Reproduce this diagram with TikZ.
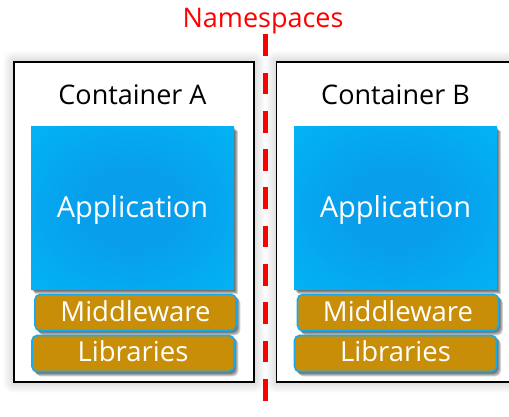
\documentclass[tikz,border=0pt]{standalone}
\usepackage{fontspec}
\setmainfont{Open Sans}
\usetikzlibrary{calc}

\definecolor{appin}{RGB}{8,158,236}
\definecolor{appout}{RGB}{0,186,246}
\definecolor{layergold}{RGB}{200,142,8}
\definecolor{layeredge}{RGB}{20,172,238}
\definecolor{nsred}{RGB}{255,0,0}

\pgfdeclarelayer{paper}
\pgfdeclarelayer{stackshade}
\pgfdeclarelayer{front}
\pgfsetlayers{paper,main,stackshade,front}

\pgfdeclareradialshading{appglow}{\pgfpoint{0bp}{0bp}}{%
  color(0bp)=(appin); color(12bp)=(appin); color(42bp)=(appout); color(100bp)=(appout)}

\tikzset{
  containerbox/.style={draw=black, line width=1.6pt, fill=white, minimum width=240pt,
    minimum height=320pt, inner sep=0pt},
  appbox/.style={shading=appglow, minimum width=203pt, minimum height=163pt, inner sep=0pt},
  layerbox/.style={fill=layergold, draw=layeredge, line width=1.6pt, rounded corners=5pt,
    minimum width=201pt, minimum height=36pt, inner sep=0pt},
  apptext/.style={text=white, font=\fontsize{29}{32}\selectfont, inner sep=0pt, anchor=base},
  layertext/.style={text=white, font=\fontsize{27.5}{30}\selectfont, inner sep=0pt, anchor=base},
  boxtitle/.style={text=black, font=\fontsize{27}{30}\selectfont, inner sep=0pt, anchor=base},
  nsline/.style={draw=nsred, line width=5.5pt, dash pattern=on 21.7pt off 16.6pt},
  glowlayer/.style={fill=black, opacity=0.013},
  dropshade/.style={fill=black, opacity=0.18},
}

% soft halo around a container node
\newcommand{\haloaround}[1]{%
  \foreach \r in {1,...,10}{
    \fill[glowlayer, rounded corners=\r pt]
      ($(#1.south west)+(-\r pt,-\r pt)$) rectangle ($(#1.north east)+(\r pt,\r pt)$);
  }}
% drop shadow to the lower right of a box node
\newcommand{\dropshadow}[2]{%
  \foreach \s in {1,...,4}{
    \fill[dropshade, rounded corners=#2]
      ($(#1.south west)+(\s pt+0.5pt,-\s pt)$) rectangle ($(#1.north east)+(\s pt-0.5pt,-\s pt)$);
  }}

\begin{document}
\begin{tikzpicture}[x=1pt, y=1pt]
  \useasboundingbox (0,0) rectangle (509,417);

  % the two containers
  \node[containerbox] (contA) at (134,195) {};
  \node[containerbox] (contB) at (396.5,195) {};

  \node[boxtitle] (titleA) at (132.5,312) {Container A};
  \node[boxtitle] (titleB) at (395.5,312) {Container B};

  \begin{pgfonlayer}{paper}
    \fill[white] (0,0) rectangle (509,417);
    \haloaround{contA}
    \haloaround{contB}
  \end{pgfonlayer}

  % software stacks: application, middleware, libraries
  \begin{pgfonlayer}{front}
    \node[appbox] (appA) at (132.5,208.5) {};
    \node[appbox] (appB) at (395.5,208.5) {};
    \node[apptext] (appAtext) at (132.5,199) {Application};
    \node[apptext] (appBtext) at (395.5,199) {Application};

    \node[layerbox] (midA) at (135.5,104.5) {};
    \node[layerbox] (midB) at (398,104.5) {};
    \node[layertext] (midAtext) at (135.5,95) {Middleware};
    \node[layertext] (midBtext) at (398,95) {Middleware};

    \node[layerbox, minimum width=202pt] (libA) at (133,63.5) {};
    \node[layerbox, minimum width=202pt] (libB) at (395.5,63.5) {};
    \node[layertext] (libAtext) at (133,55) {Libraries};
    \node[layertext] (libBtext) at (395.5,55) {Libraries};
  \end{pgfonlayer}

  \begin{pgfonlayer}{stackshade}
    \dropshadow{appA}{0pt}
    \dropshadow{appB}{0pt}
    \dropshadow{midA}{5pt}
    \dropshadow{midB}{5pt}
    \dropshadow{libA}{5pt}
    \dropshadow{libB}{5pt}
  \end{pgfonlayer}

  % namespace boundary
  \begin{pgfonlayer}{front}
    \node[text=nsred, font=\fontsize{27}{30}\selectfont, inner sep=0pt, anchor=base]
      (ns) at (263,389) {Namespaces};
    \coordinate (nstop) at (265.6,382.7);
    \coordinate (nsbottom) at (265.6,-3);
    \draw[nsline] (nstop) -- (nsbottom);
  \end{pgfonlayer}
\end{tikzpicture}
\end{document}
